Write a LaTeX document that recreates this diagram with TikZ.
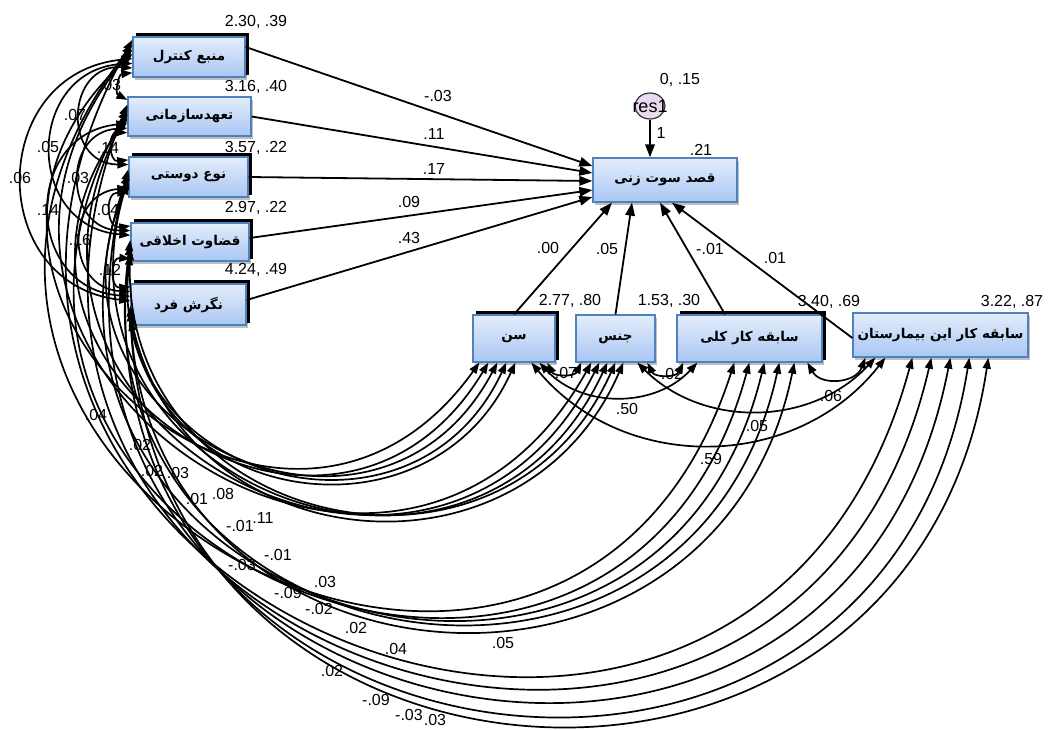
\documentclass[tikz,border=0pt]{standalone}
\usepackage{fontspec}
\setmainfont{Liberation Sans}
\newfontfamily\fa[Script=Arabic]{DejaVu Sans}
\TeXXeTstate=1
\usepackage{tikz}
\usetikzlibrary{arrows.meta, shadows, shapes.geometric}
\definecolor{boxTop}{HTML}{E4EDFB}
\definecolor{boxBottom}{HTML}{A9C6F3}
\definecolor{boxLine}{HTML}{4F81BD}
\definecolor{resFill}{HTML}{E9D8EF}

\begin{document}
\begin{tikzpicture}[
  x=1pt, y=1pt,
  font=\fontsize{16}{18}\selectfont,
  obs/.style={draw=boxLine, line width=1.3pt, top color=boxTop, bottom color=boxBottom, inner sep=0pt,
              font=\fontsize{13.5}{15}\selectfont\fa\bfseries,
              drop shadow={shadow xshift=2pt, shadow yshift=-3pt, opacity=.25, fill=black}},
  framed/.style={obs, copy shadow={shadow xshift=3.5pt, shadow yshift=3pt, fill=black, draw=black}},
  err/.style={ellipse, draw=black!80, line width=1.2pt, fill=resFill, minimum width=30, minimum height=26, inner sep=0pt},
  a/.style={-{Triangle[length=13pt, width=9.5pt]}, line width=1.8pt},
  covar/.style={{Triangle[length=11pt, width=8pt]}-{Triangle[length=11pt, width=8pt]}, line width=1.7pt},
  bendc/.code={\pgfmathsetmacro\bendloose{2/3*tan(#1/2)/sin(#1)/0.3915}%
               \edef\bendset{\noexpand\tikzset{bend right=#1, looseness=\bendloose}}\bendset}
]
\useasboundingbox (0,0) rectangle (1049,-729);

% variables
\node[framed, minimum width=112, minimum height=40] (control) at (189,-57) {\beginR منبع کنترل\endR};
\node[obs, minimum width=123, minimum height=39] (commit) at (189.5,-116.5) {\beginR تعهدسازمانی\endR};
\node[framed, minimum width=119, minimum height=40] (altruism) at (188.5,-177) {\beginR نوع دوستی\endR};
\node[framed, minimum width=118, minimum height=38] (moral) at (190,-242) {\beginR قضاوت اخلاقی\endR};
\node[framed, minimum width=115, minimum height=41] (attitude) at (188.5,-304.5) {\beginR نگرش فرد\endR};
\node[obs, minimum width=144, minimum height=44] (intent) at (665,-180) {\beginR قصد سوت زنی\endR};
\node[framed, minimum width=82, minimum height=47] (age) at (514,-338.5) {\beginR سن\endR};
\node[obs, minimum width=79, minimum height=47] (gender) at (615.5,-338.5) {\beginR جنس\endR};
\node[framed, minimum width=145, minimum height=47] (totalexp) at (749.5,-338.5) {\beginR سابقه کار کلی\endR};
\node[obs, minimum width=175, minimum height=44] (hospexp) at (940.5,-335) {\beginR سابقه کار این بیمارستان\endR};
\node[err, label={[font=\fontsize{18}{20}\selectfont]center:res1}] (res) at (650,-106) {};

% regression paths
\draw[a] ([yshift=10]control.east) -- ([yshift=14]intent.west);
\draw[a] (commit.east) -- ([yshift=7]intent.west);
\draw[a] (altruism.east) -- ([yshift=-1]intent.west);
\draw[a] ([yshift=4]moral.east) -- ([yshift=-10]intent.west);
\draw[a] ([yshift=4.5]attitude.east) -- ([yshift=-17]intent.west);
\draw[a] (age.north) -- ([xshift=-53]intent.south);
\draw[a] (gender.north) -- ([xshift=-33]intent.south);
\draw[a] ([xshift=-24.5]totalexp.north) -- ([xshift=-5]intent.south);
\draw[a] ([yshift=-3]hospexp.west) -- ([xshift=7]intent.south);
\draw[a] (res.south) -- ([xshift=-15]intent.north);

% covariances between the left variables
\draw[covar] ([yshift=-36.4]control.north west) to[bendc=73] ([yshift=-3.5]commit.north west);
\draw[covar] ([yshift=-31.7]control.north west) to[bendc=92] ([yshift=-8.2]altruism.north west);
\draw[covar] ([yshift=-27]control.north west) to[bendc=86] ([yshift=-12.9]moral.north west);
\draw[covar] ([yshift=-22.3]control.north west) to[bendc=84] ([yshift=-17.6]attitude.north west);
\draw[covar] ([yshift=-36.4]commit.north west) to[bendc=95] ([yshift=-3.5]altruism.north west);
\draw[covar] ([yshift=-31.7]commit.north west) to[bendc=88] ([yshift=-8.2]moral.north west);
\draw[covar] ([yshift=-27]commit.north west) to[bendc=85] ([yshift=-12.9]attitude.north west);
\draw[covar] ([yshift=-36.4]altruism.north west) to[bendc=95] ([yshift=-3.5]moral.north west);
\draw[covar] ([yshift=-31.7]altruism.north west) to[bendc=86] ([yshift=-8.2]attitude.north west);
\draw[covar] ([yshift=-36.4]moral.north west) to[bendc=95] ([yshift=-3.5]attitude.north west);

% covariances from the left variables to the lower ones
\draw[covar] ([yshift=-17.6]control.north west) to[bendc=96] ([xshift=7]age.south west);
\draw[covar] ([yshift=-22.3]commit.north west) to[bendc=93] ([xshift=16]age.south west);
\draw[covar] ([yshift=-27]altruism.north west) to[bendc=88] ([xshift=25]age.south west);
\draw[covar] ([yshift=-31.7]moral.north west) to[bendc=81] ([xshift=34]age.south west);
\draw[covar] ([yshift=-36.4]attitude.north west) to[bendc=72] ([xshift=43]age.south west);
\draw[covar] ([yshift=-12.9]control.north west) to[bendc=95] ([xshift=16]gender.south west);
\draw[covar] ([yshift=-17.6]commit.north west) to[bendc=91] ([xshift=24]gender.south west);
\draw[covar] ([yshift=-22.3]altruism.north west) to[bendc=86] ([xshift=32]gender.south west);
\draw[covar] ([yshift=-27]moral.north west) to[bendc=79] ([xshift=40]gender.south west);
\draw[covar] ([yshift=-31.7]attitude.north west) to[bendc=72] ([xshift=48]gender.south west);
\draw[covar] ([yshift=-8.2]control.north west) to[bendc=100] ([xshift=58]totalexp.south west);
\draw[covar] ([yshift=-12.9]commit.north west) to[bendc=97] ([xshift=73]totalexp.south west);
\draw[covar] ([yshift=-17.6]altruism.north west) to[bendc=93] ([xshift=88]totalexp.south west);
\draw[covar] ([yshift=-22.3]moral.north west) to[bendc=88] ([xshift=103]totalexp.south west);
\draw[covar] ([yshift=-27]attitude.north west) to[bendc=83] ([xshift=118]totalexp.south west);
\draw[covar] ([yshift=-3.5]control.north west) to[bendc=97] ([xshift=60]hospexp.south west);
\draw[covar] ([yshift=-8.2]commit.north west) to[bendc=94.5] ([xshift=79]hospexp.south west);
\draw[covar] ([yshift=-12.9]altruism.north west) to[bendc=92] ([xshift=98]hospexp.south west);
\draw[covar] ([yshift=-17.6]moral.north west) to[bendc=89] ([xshift=117]hospexp.south west);
\draw[covar] ([yshift=-22.3]attitude.north west) to[bendc=85] ([xshift=136]hospexp.south west);

% covariances between the lower variables
\draw[covar] ([xshift=75]age.south west) to[bendc=64] ([xshift=6]gender.south west);
\draw[covar] ([xshift=72]gender.south west) to[bendc=64] ([xshift=7]totalexp.south west);
\draw[covar] ([xshift=67]age.south west) to[bendc=47] ([xshift=21]totalexp.south west);
\draw[covar] ([xshift=62]gender.south west) to[bendc=46] ([xshift=23]hospexp.south west);
\draw[covar] ([xshift=59]age.south west) to[bendc=51] ([xshift=33]hospexp.south west);
\draw[covar] ([xshift=131]totalexp.south west) to[bendc=65] ([xshift=13]hospexp.south west);

% means and variances
\node (mv1) at (256,-22) {2.30, .39};
\node (mv2) at (256,-87) {3.16, .40};
\node (mv3) at (256,-148) {3.57, .22};
\node (mv4) at (256,-208) {2.97, .22};
\node (mv5) at (256,-270) {4.24, .49};
\node (mv6) at (570,-301) {2.77, .80};
\node (mv7) at (669,-301) {1.53, .30};
\node (mv8) at (829,-302) {3.40, .69};
\node (mv9) at (1012,-302) {3.22, .87};
\node (mvres) at (680,-80) {0, .15};
\node (rsq) at (701,-150) {.21};

% path weights
\node (w1) at (438,-96) {-.03};
\node (w2) at (434,-134) {.11};
\node (w3) at (434,-169) {.17};
\node (w4) at (409,-202) {.09};
\node (w5) at (409,-238) {.43};
\node (w6) at (548,-248) {.00};
\node (w7) at (607,-249) {.05};
\node (w8) at (710,-249) {-.01};
\node (w9) at (775,-258) {.01};
\node (wres) at (661,-133) {1};

% covariance values
\node (c1) at (110,-85) {.03};
\node (c2) at (75,-115) {.07};
\node (c3) at (48,-147) {.05};
\node (c4) at (20,-178) {.06};
\node (c5) at (108,-148) {.14};
\node (c6) at (78,-178) {.03};
\node (c7) at (48,-210) {.14};
\node (c8) at (108,-210) {.04};
\node (c9) at (80,-240) {.16};
\node (c10) at (110,-270) {.12};
\node (c11) at (96,-415) {.04};
\node (c12) at (140,-445) {.02};
\node (c13) at (152,-471) {.02};
\node (c14) at (178,-473) {.03};
\node (c15) at (197,-499) {.01};
\node (c16) at (223,-494) {.08};
\node (c17) at (240,-526) {-.01};
\node (c18) at (263,-518) {.11};
\node (c19) at (278,-555) {-.01};
\node (c20) at (242,-565) {-.03};
\node (c21) at (325,-582) {.03};
\node (c22) at (288,-593) {-.09};
\node (c23) at (319,-609) {-.02};
\node (c24) at (356,-628) {.02};
\node (c25) at (396,-649) {.04};
\node (c26) at (503,-643) {.05};
\node (c27) at (332,-671) {.02};
\node (c28) at (376,-700) {-.09};
\node (c29) at (409,-715) {-.03};
\node (c30) at (435,-720) {.03};
\node (c31) at (566,-373) {.07};
\node (c32) at (672,-374) {.02};
\node (c33) at (627,-409) {.50};
\node (c34) at (757,-426) {.05};
\node (c35) at (831,-396) {.06};
\node (c36) at (711,-459) {.59};
\end{tikzpicture}
\end{document}
